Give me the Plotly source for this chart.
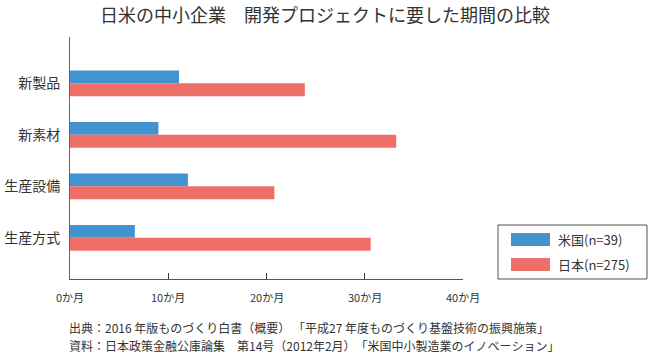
import plotly.graph_objects as go

categories = ["新製品", "新素材", "生産設備", "生産方式"]
series_names = ["米国(n=39)", "日本(n=275)"]
us_values = [11.1, 9.0, 12.0, 6.6]
jp_values = [23.9, 33.2, 20.8, 30.6]
x_tickvals = [0, 10, 20, 30, 40]
x_ticktext = ["0か月", "10か月", "20か月", "30か月", "40か月"]
title_text = "日米の中小企業　開発プロジェクトに要した期間の比較"
source_lines = [
    "出典：2016 年版ものづくり白書（概要） 「平成27 年度ものづくり基盤技術の振興施策」",
    "資料：日本政策金融公庫論集　第14号（2012年2月）　「米国中小製造業のイノベーション」",
]
colors = ["#4493D1", "#EE6F68"]

W, H = 650, 355
L, R, T, B = 70, 187, 37, 76
FONT = "Noto Sans CJK JP, Noto Sans, sans-serif"
TXT = "#333333"

def px_x(p):
    return (p - L) / (W - L - R)

def px_y(p):
    return 1 - (p - T) / (H - T - B)

fig = go.Figure()
for name, vals, c in zip(series_names, [us_values, jp_values], colors):
    fig.add_trace(go.Bar(
        y=list(range(len(categories))), x=vals, orientation="h", name=name,
        marker=dict(color=c, line=dict(width=0)), showlegend=False, hoverinfo="skip",
    ))

fig.update_layout(
    width=W, height=H, barmode="group", bargap=0.5, bargroupgap=0,
    margin=dict(l=L, r=R, t=T, b=B, autoexpand=False), plot_bgcolor="white", paper_bgcolor="white",
    font=dict(family=FONT, color=TXT, size=12),
    xaxis=dict(range=[0, 40], tickvals=x_tickvals[1:], ticktext=[""] * 4, showgrid=False,
               zeroline=False, showline=True, linecolor="#555", linewidth=1,
               ticks="inside", ticklen=6, tickcolor="#333", tickwidth=1),
    yaxis=dict(range=[3.8, -0.9], tickvals=list(range(len(categories))), ticktext=categories,
               showgrid=False, zeroline=False, showline=True, linecolor="#666", linewidth=1,
               ticks="", tickfont=dict(size=14, color=TXT), ticklabelstandoff=6),
)

# x tick labels
for v, t in zip(x_tickvals, x_ticktext):
    fig.add_annotation(x=v, xref="x", y=px_y(297), yref="paper", text=t, showarrow=False,
                       font=dict(size=11, color=TXT), xanchor="center", yanchor="middle")

# title
fig.add_annotation(x=px_x(325), xref="paper", y=px_y(14), yref="paper", text=title_text,
                   showarrow=False, font=dict(size=18, color=TXT), xanchor="center", yanchor="middle")

# source lines
for i, line in enumerate(source_lines):
    fig.add_annotation(x=px_x(67), xref="paper", y=px_y(327 + 18 * i), yref="paper", text=line,
                       showarrow=False, font=dict(size=12, color=TXT), xanchor="left", yanchor="middle")

# custom legend
fig.add_shape(type="rect", xref="paper", yref="paper", x0=px_x(498), x1=px_x(647),
              y0=px_y(279), y1=px_y(225), line=dict(color="#555", width=1), fillcolor="white")
for i, (name, c) in enumerate(zip(series_names, colors)):
    yc = 239.5 + 25 * i
    fig.add_shape(type="rect", xref="paper", yref="paper", x0=px_x(511), x1=px_x(550),
                  y0=px_y(yc + 6.5), y1=px_y(yc - 6.5), line=dict(width=0), fillcolor=c)
    fig.add_annotation(x=px_x(556), xref="paper", y=px_y(yc), yref="paper", text=name,
                       showarrow=False, font=dict(size=13, color=TXT), xanchor="left", yanchor="middle")

fig.write_html("out.html", config={"displayModeBar": False})

with open("out.html", encoding="utf-8") as f:
    html = f.read()
html = html.replace("<body>", '<body style="margin:0;padding:0;overflow:hidden">', 1)
with open("out.html", "w", encoding="utf-8") as f:
    f.write(html)
